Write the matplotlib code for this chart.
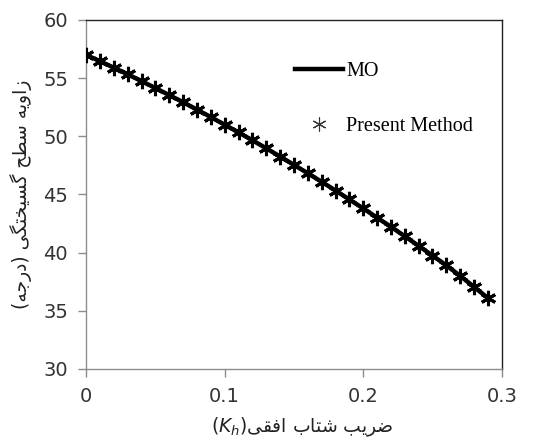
import matplotlib.pyplot as plt
import matplotlib as mpl
import numpy as np
from matplotlib.lines import Line2D

# data
kh = [0.00, 0.01, 0.02, 0.03, 0.04, 0.05, 0.06, 0.07, 0.08, 0.09,
      0.10, 0.11, 0.12, 0.13, 0.14, 0.15, 0.16, 0.17, 0.18, 0.19,
      0.20, 0.21, 0.22, 0.23, 0.24, 0.25, 0.26, 0.27, 0.28, 0.29]
angle_mo = [57.0, 56.45, 55.9, 55.33, 54.74, 54.15, 53.54, 52.93, 52.3, 51.65,
            51.0, 50.33, 49.66, 48.97, 48.26, 47.55, 46.82, 46.09, 45.34, 44.57,
            43.8, 43.01, 42.22, 41.41, 40.58, 39.75, 38.9, 38.0, 37.05, 36.1]
angle_present = angle_mo
xticks = [0, 0.1, 0.2, 0.3]
xticklabels = ['0', '0.1', '0.2', '0.3']
yticks = [30, 35, 40, 45, 50, 55, 60]

ylabel_fa = 'زاویه سطح گسیختگی (درجه)'
xlabel_fa = 'ضریب شتاب افقی'

# minimal Persian shaping (presentation forms), matplotlib has no bidi
FORMS = {
    'ا': ('\uFE8D', '\uFE8E', None, None),
    'د': ('\uFEA9', '\uFEAA', None, None),
    'ر': ('\uFEAD', '\uFEAE', None, None),
    'ز': ('\uFEAF', '\uFEB0', None, None),
    'و': ('\uFEED', '\uFEEE', None, None),
    'ب': ('\uFE8F', '\uFE90', '\uFE91', '\uFE92'),
    'ت': ('\uFE95', '\uFE96', '\uFE97', '\uFE98'),
    'ج': ('\uFE9D', '\uFE9E', '\uFE9F', '\uFEA0'),
    'ح': ('\uFEA1', '\uFEA2', '\uFEA3', '\uFEA4'),
    'خ': ('\uFEA5', '\uFEA6', '\uFEA7', '\uFEA8'),
    'س': ('\uFEB1', '\uFEB2', '\uFEB3', '\uFEB4'),
    'ش': ('\uFEB5', '\uFEB6', '\uFEB7', '\uFEB8'),
    'ض': ('\uFEBD', '\uFEBE', '\uFEBF', '\uFEC0'),
    'ط': ('\uFEC1', '\uFEC2', '\uFEC3', '\uFEC4'),
    'ف': ('\uFED1', '\uFED2', '\uFED3', '\uFED4'),
    'ق': ('\uFED5', '\uFED6', '\uFED7', '\uFED8'),
    'ه': ('\uFEE9', '\uFEEA', '\uFEEB', '\uFEEC'),
    'ی': ('\uFBFC', '\uFBFD', '\uFBFE', '\uFBFF'),
    'گ': ('\uFB92', '\uFB93', '\uFB94', '\uFB95'),
}


def shape(s):
    out = []
    for i, c in enumerate(s):
        if c not in FORMS:
            out.append({'(': ')', ')': '('}.get(c, c))
            continue
        prev = s[i - 1] if i > 0 else ''
        nxt = s[i + 1] if i < len(s) - 1 else ''
        join_prev = prev in FORMS and FORMS[prev][2] is not None
        join_next = nxt in FORMS and FORMS[c][2] is not None
        iso, fin, ini, med = FORMS[c]
        if join_prev and join_next:
            out.append(med)
        elif join_prev:
            out.append(fin)
        elif join_next:
            out.append(ini)
        else:
            out.append(iso)
    return ''.join(reversed(out))


plt.rcParams['font.family'] = 'DejaVu Sans'
plt.rcParams['mathtext.fontset'] = 'dejavusans'

fig = plt.figure(figsize=(5.52, 4.44), dpi=100)
ax = fig.add_axes([0.156, 0.169, 0.753, 0.786])

ax.plot(kh, angle_mo, color='black', lw=3.2, zorder=2)
ax.plot(kh, angle_present, ls='none', marker=(6, 2, 0), ms=11, mew=2.2,
        color='black', zorder=3)

ax.set_xlim(0, 0.3)
ax.set_ylim(30, 60)
ax.set_xticks(xticks)
ax.set_xticklabels(xticklabels)
ax.set_yticks(yticks)

for side in ['left', 'bottom']:
    ax.spines[side].set_color('#8c8c8c')
for side in ['top', 'right']:
    ax.spines[side].set_color('#222222')
for sp in ax.spines.values():
    sp.set_linewidth(1.0)

ax.xaxis.set_tick_params(which='major', size=6, width=1, color='#8c8c8c',
                         direction='out', pad=7, labelsize=14,
                         labelcolor='#333333')
ax.yaxis.set_tick_params(which='major', size=6, width=1, color='#8c8c8c',
                         direction='out', pad=7, labelsize=14,
                         labelcolor='#333333')

ax.set_ylabel(shape(ylabel_fa), fontsize=13.5, color='#222222')
ax.yaxis.set_label_coords(-0.13, 0.5)
ax.set_xlabel('$(K_h)$' + shape(xlabel_fa), fontsize=13.5, color='#222222')
ax.xaxis.set_label_coords(0.52, -0.135)

handles = [Line2D([], [], color='black', lw=3.2),
           Line2D([], [], ls='none', marker=(6, 2, 0), ms=10, mew=0.8,
                  color='#333333')]
leg = ax.legend(handles, ['MO', 'Present Method'], loc='upper left',
                bbox_to_anchor=(0.482, 0.904), frameon=False,
                prop={'family': 'Liberation Serif', 'size': 14.5},
                handlelength=2.43, handletextpad=0.15, labelspacing=1.8,
                borderaxespad=0)

plt.savefig('out.png', dpi=100)
plt.close()
